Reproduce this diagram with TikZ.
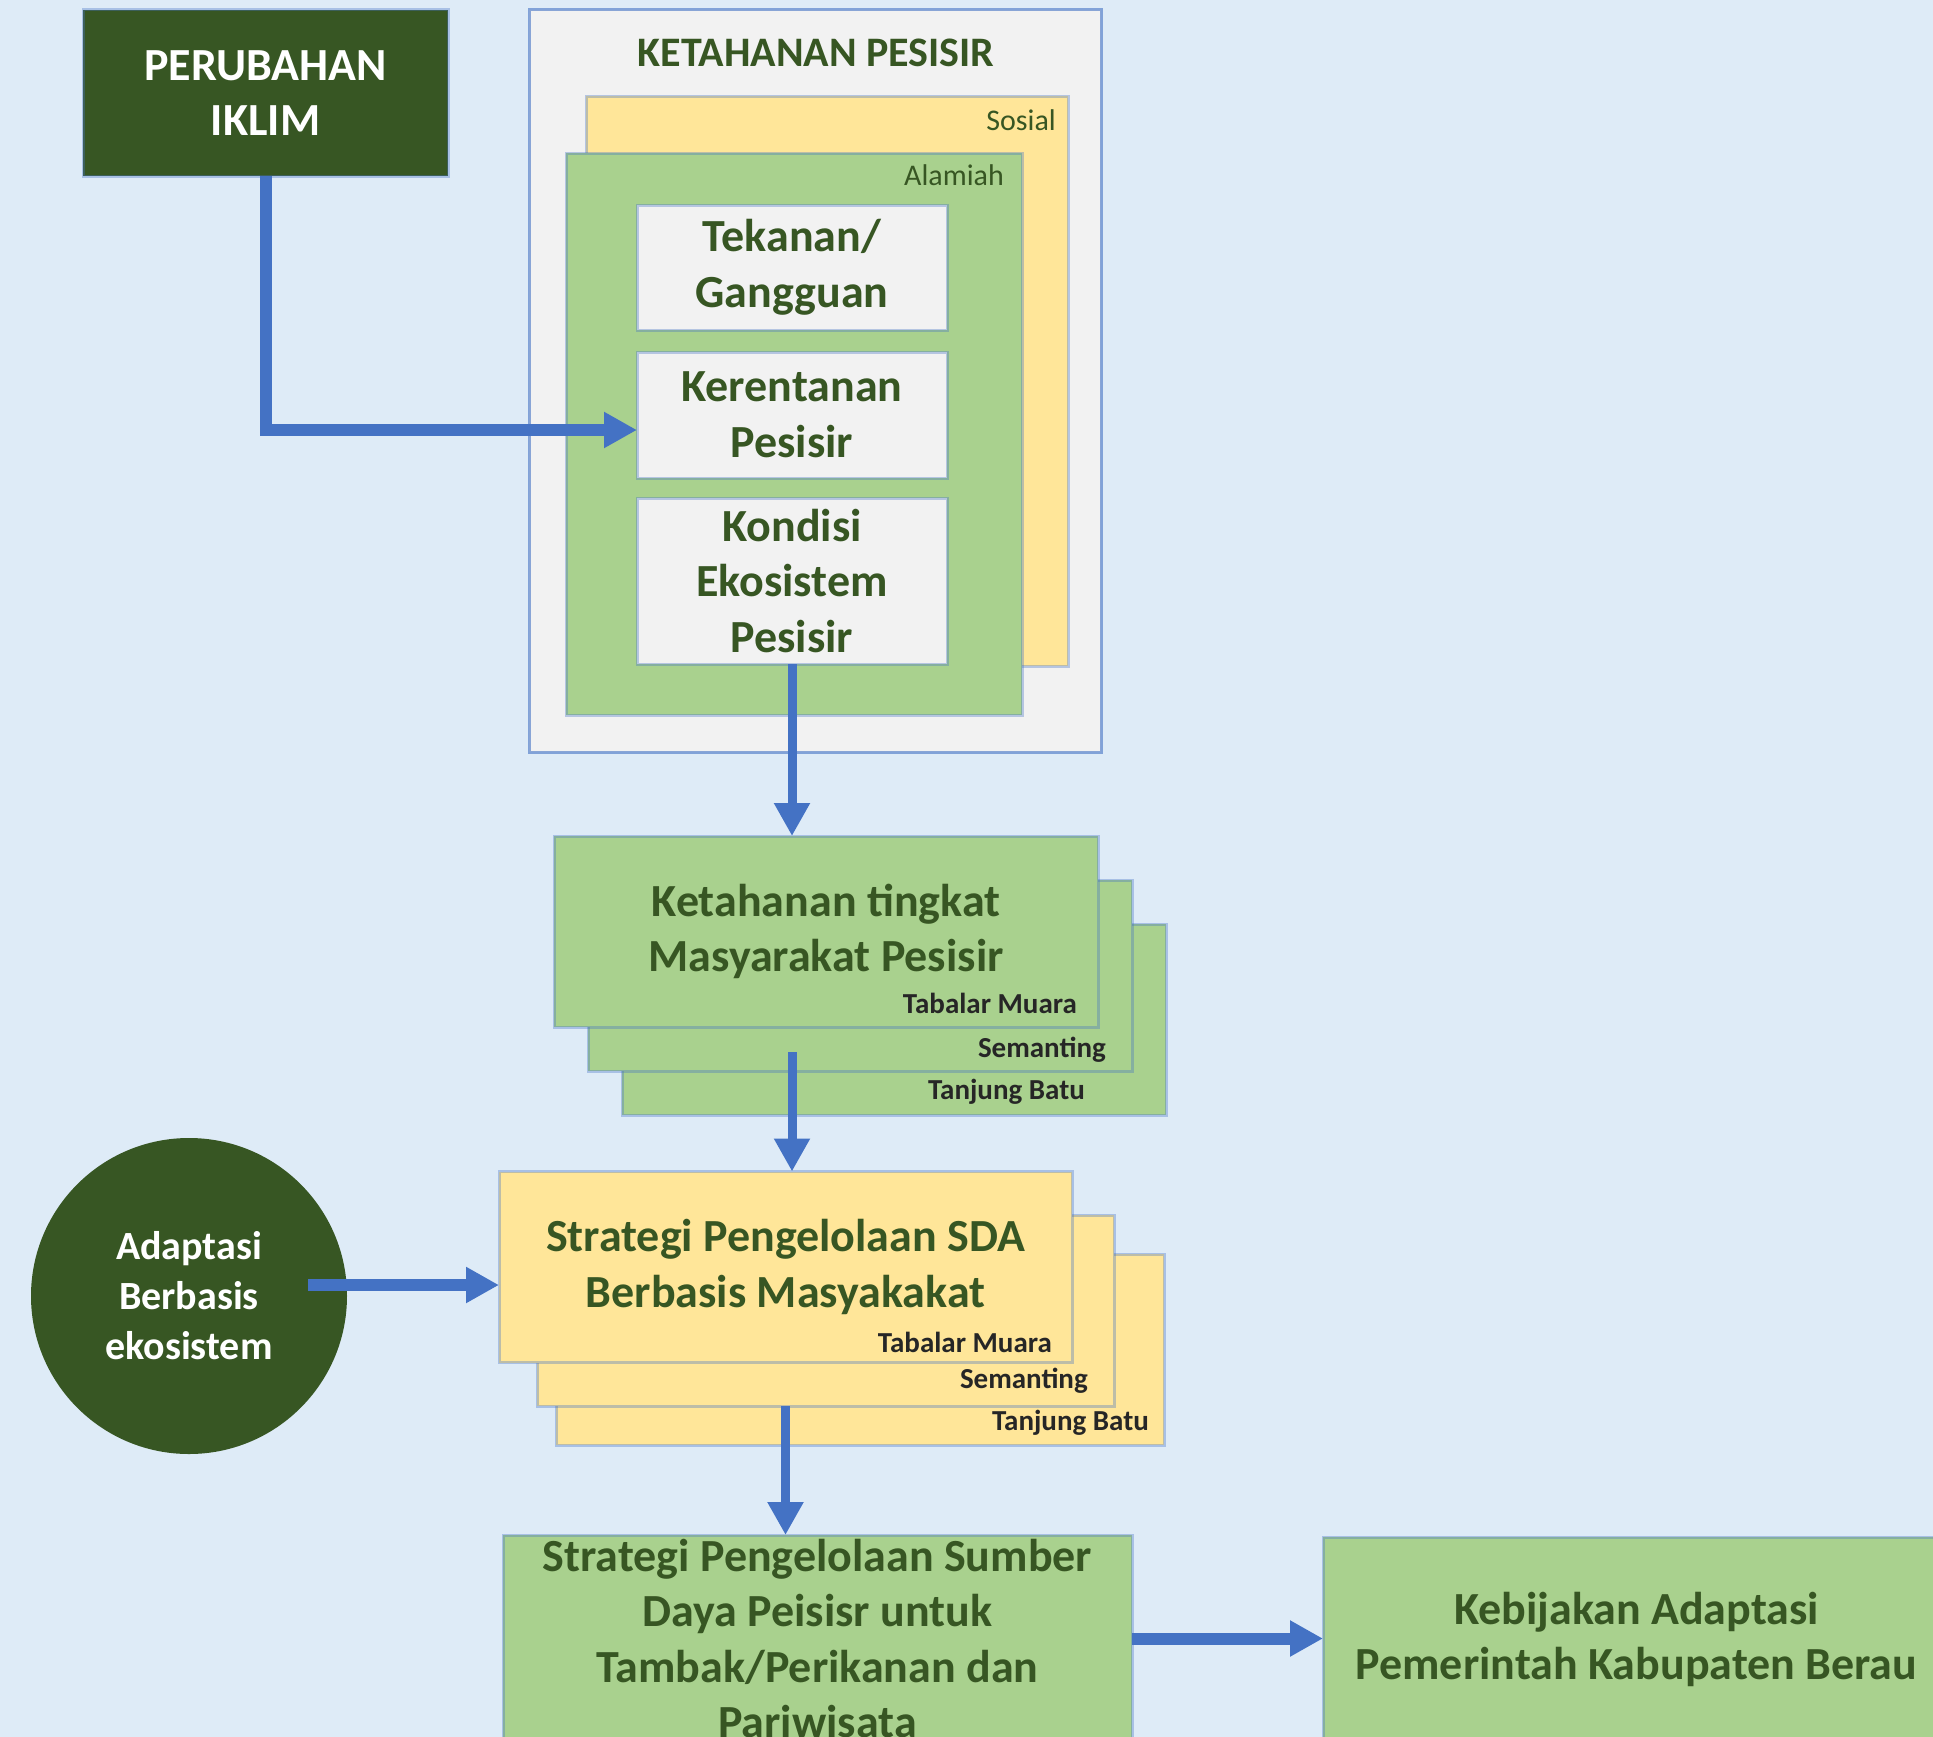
\documentclass[tikz,border=0pt]{standalone}
\usepackage{fontspec}
\setmainfont{Carlito}
\usetikzlibrary{positioning,arrows.meta}

\definecolor{bgblue}{HTML}{DEEBF7}
\definecolor{darkgreen}{HTML}{375623}
\definecolor{leafgreen}{HTML}{A9D18E}
\definecolor{sandyellow}{HTML}{FFE699}
\definecolor{paper}{HTML}{F2F2F2}
\definecolor{flowblue}{HTML}{4472C4}

\tikzset{
  box/.style={draw=flowblue, draw opacity=0.35, line width=3pt, inner sep=0pt, outer sep=0pt,
    align=center, text=darkgreen, font=\bfseries\fontsize{46}{55.5}\selectfont},
  card/.style={box, minimum width=544pt, minimum height=191pt},
  cardlabel/.style={anchor=east, inner sep=0pt, text=black!85, font=\bfseries\fontsize{29}{30}\selectfont},
  layerlabel/.style={anchor=east, inner sep=0pt, text=darkgreen, font=\fontsize{30}{32}\selectfont},
  flow/.style={draw=flowblue, line width=9pt, -{Triangle[length=33pt,width=34pt]}},
  bigflow/.style={flow, line width=12pt},
}

\begin{document}
\begin{tikzpicture}[x=1pt, y=-1pt]

    \useasboundingbox (0,0) rectangle (1933,1737);
    \fill[bgblue] (0,0) rectangle (1933,1737);

      % Define nodes
	  \node[box, fill=darkgreen, text=white, minimum width=365pt, minimum height=166pt] (perubahan) at (265.5,93) {PERUBAHAN\\IKLIM};

	  \node[box, fill=paper, draw opacity=0.6, minimum width=572pt, minimum height=742pt] (pesisir) at (815,381) {};
	  \node[text=darkgreen, font=\bfseries\fontsize{42}{44}\selectfont] (pesisir-title) at (816,53) {KETAHANAN PESISIR};
	  \node[box, fill=sandyellow, minimum width=482pt, minimum height=570pt] (sosial) at (827,381) {};
	  \node[layerlabel] (sosial-label) at (1056,120) {Sosial};
	  \node[box, fill=leafgreen, minimum width=456pt, minimum height=562pt] (alamiah) at (794,434) {};
	  \node[layerlabel] (alamiah-label) at (1004,175) {Alamiah};

	  \node[box, fill=paper, minimum width=310pt, minimum height=125pt] (tekanan) at (792,267.5) {Tekanan/\\Gangguan};
	  \node[box, fill=paper, minimum width=310pt, minimum height=126pt, below=22pt of tekanan] (kerentanan) {Kerentanan\\Pesisir};
	  \node[box, fill=paper, minimum width=310pt, minimum height=166pt, below=20pt of kerentanan] (kondisi) {Kondisi\\Ekosistem\\Pesisir};

    % Ketahanan tingkat (three villages)
    \node[card, fill=leafgreen] (tingkat-3) at (894,1019.5) {};
    \node[cardlabel] at ([shift={(-81,-23)}]tingkat-3.south east) {Tanjung Batu};
    \node[card, fill=leafgreen] (tingkat-2) at ([shift={(-34,-44)}]tingkat-3.center) {};
    \node[cardlabel] at ([shift={(-26,-21)}]tingkat-2.south east) {Semanting};
    \node[card, fill=leafgreen] (tingkat-1) at ([shift={(-34,-44)}]tingkat-2.center) {Ketahanan tingkat\\Masyarakat Pesisir};
    \node[cardlabel] at ([shift={(-21,-24)}]tingkat-1.south east) {Tabalar Muara};

    % Strategi SDA (three villages)
    \node[card, fill=sandyellow, minimum width=608pt] (sda-3) at (860,1349.5) {};
    \node[cardlabel] at ([shift={(-15,-22)}]sda-3.south east) {Tanjung Batu};
    \node[card, fill=sandyellow, minimum width=577pt] (sda-2) at ([shift={(-34.5,-39)}]sda-3.center) {};
    \node[cardlabel] at ([shift={(-26,-25)}]sda-2.south east) {Semanting};
    \node[card, fill=sandyellow, minimum width=573pt] (sda-1) at ([shift={(-40,-43.5)}]sda-2.center) {Strategi Pengelolaan SDA\\Berbasis Masyakakat};
    \node[cardlabel] at ([shift={(-20,-20)}]sda-1.south east) {Tabalar Muara};

    \node[circle, fill=darkgreen, minimum size=316pt, inner sep=0pt, align=center, text=white,
      font=\bfseries\fontsize{40}{50}\selectfont] (adaptasi) at (189,1296) {Adaptasi\\Berbasis\\ekosistem};

    \node[box, fill=leafgreen, minimum width=629pt, minimum height=207pt] (sumber) at (817.5,1638.5) {Strategi Pengelolaan Sumber\\Daya Peisisr untuk\\Tambak/Perikanan dan\\Pariwisata};
    \node[box, fill=leafgreen, minimum width=627pt, minimum height=205pt] (kebijakan) at (1636.5,1639.5) {Kebijakan Adaptasi\\Pemerintah Kabupaten Berau};

	  % Connect the nodes
    \coordinate (tingkat-out) at (kondisi.south |- tingkat-2.south);
    \coordinate (adaptasi-out) at ([shift={(-39pt,11pt)}]adaptasi.east);
    \coordinate (sda-out) at (sda-1.south |- sda-2.south);

	  \draw[bigflow] (perubahan.south) |- ([yshift=-15pt]kerentanan.west);
	  \draw[flow] (kondisi.south) -- (kondisi.south |- tingkat-1.north);
	  \draw[flow] ([yshift=19pt]tingkat-out) -- (kondisi.south |- sda-1.north);
	  \draw[bigflow] (adaptasi-out) -- (adaptasi-out -| sda-1.west);
	  \draw[flow] (sda-out) -- (sda-out |- sumber.north);
	  \draw[bigflow] (sumber.east) -- (sumber.east -| kebijakan.west);

\end{tikzpicture}
\end{document}
